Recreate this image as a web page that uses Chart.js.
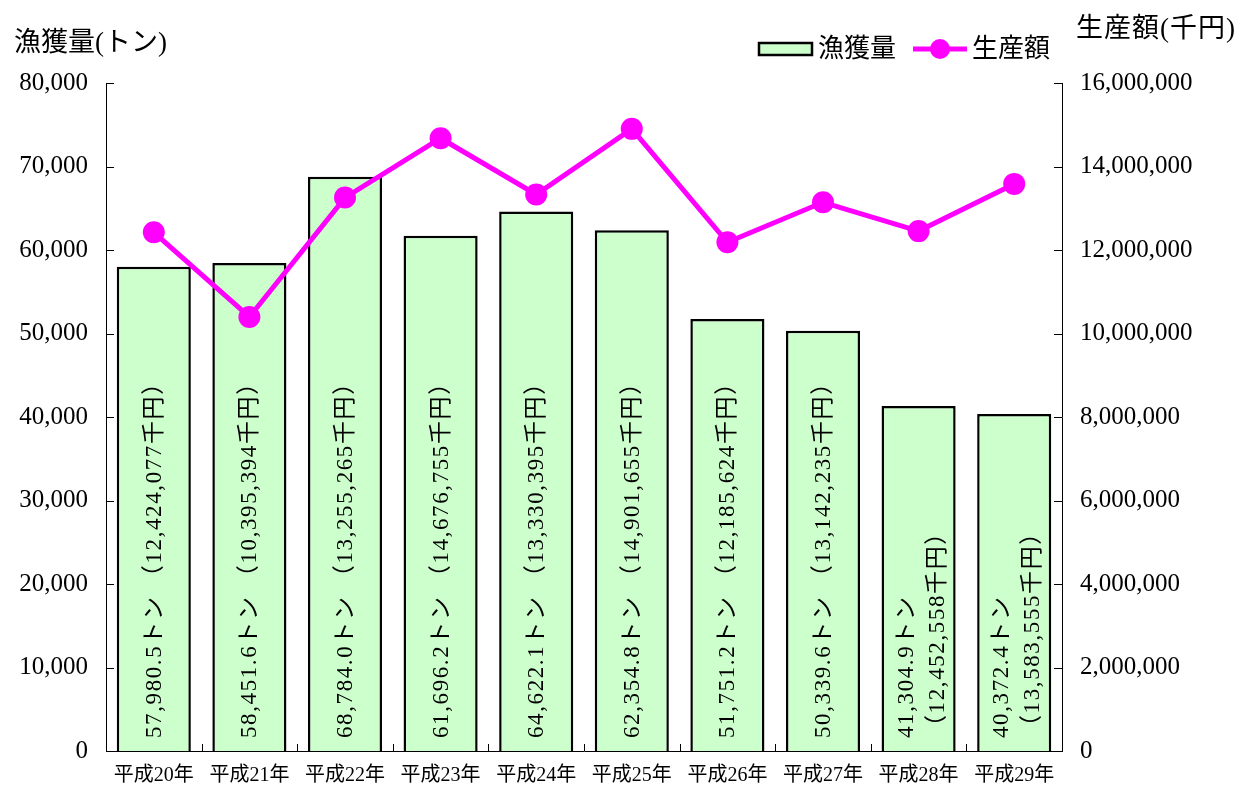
<!DOCTYPE html>
<html>
<head>
<meta charset="utf-8">
<script src="https://cdn.jsdelivr.net/npm/chart.js@4"></script>
<style>
  html, body { margin: 0; padding: 0; background: #fff; }
  canvas { display: block; }
</style>
</head>
<body>
<canvas id="fishChart" width="1248" height="787"></canvas>
<script>
const years = ['平成20年', '平成21年', '平成22年', '平成23年', '平成24年', '平成25年', '平成26年', '平成27年', '平成28年', '平成29年'];
const catchTons = [57980.5, 58451.6, 68784.0, 61696.2, 64622.1, 62354.8, 51751.2, 50339.6, 41304.9, 40372.4];
const valueYen = [12424077, 10395394, 13255265, 14676755, 13330395, 14901655, 12185624, 13142235, 12452558, 13583555];
// last two bars put their label on two lines
const twoLine = [false, false, false, false, false, false, false, false, true, true];

const FONT = '"Liberation Serif", "Noto Sans CJK JP", serif';

const fmtInt = v => Number(v).toLocaleString('en-US');
const fmtTon = v => v.toLocaleString('en-US', { minimumFractionDigits: 1, maximumFractionDigits: 1 });

const decor = {
    id: 'decor',
    afterDatasetsDraw(chart) {
        const ctx = chart.ctx;
        const meta = chart.getDatasetMeta(1);
        const base = chart.scales.y.getPixelForValue(0);
        ctx.save();
        ctx.fillStyle = '#000';
        ctx.font = '23px ' + FONT;
        ctx.letterSpacing = '1.6px';
        ctx.textBaseline = 'middle';
        ctx.textAlign = 'left';
        meta.data.forEach((bar, i) => {
            const t1 = fmtTon(catchTons[i]) + 'トン';
            const t2 = '（' + fmtInt(valueYen[i]) + '千円）';
            const lines = twoLine[i] ? [t1, t2] : [t1 + ' ' + t2];
            lines.forEach((t, k) => {
                const off = lines.length === 1 ? 1 : (k === 0 ? -12 : 19);
                ctx.save();
                ctx.translate(bar.x + off, base - 13);
                ctx.rotate(-Math.PI / 2);
                ctx.fillText(t, 0, 0);
                ctx.restore();
            });
        });
        ctx.restore();
    },
    afterDraw(chart) {
        const ctx = chart.ctx;
        const { y, y1, x } = chart.scales;
        const area = chart.chartArea;
        ctx.save();
        ctx.strokeStyle = '#000';
        ctx.lineWidth = 1;
        // inward tick marks
        y.ticks.forEach(t => {
            const py = Math.round(y.getPixelForValue(t.value)) + 0.5;
            ctx.beginPath(); ctx.moveTo(area.left, py); ctx.lineTo(area.left + 8, py); ctx.stroke();
        });
        y1.ticks.forEach(t => {
            const py = Math.round(y1.getPixelForValue(t.value)) + 0.5;
            ctx.beginPath(); ctx.moveTo(area.right - 8, py); ctx.lineTo(area.right, py); ctx.stroke();
        });
        const step = x.getPixelForValue(1) - x.getPixelForValue(0);
        for (let i = 1; i < years.length; i++) {
            const px = Math.round(x.getPixelForValue(i) - step / 2) + 0.5;
            ctx.beginPath(); ctx.moveTo(px, area.bottom); ctx.lineTo(px, area.bottom - 7); ctx.stroke();
        }

        // axis titles
        ctx.fillStyle = '#000';
        ctx.font = '27px ' + FONT;
        ctx.textBaseline = 'middle';
        ctx.textAlign = 'left';
        ctx.fillText('漁獲量(トン)', 14, 44);
        ctx.letterSpacing = '1px';
        ctx.fillText('生産額(千円)', 1076, 30);
        ctx.letterSpacing = '0px';

        // legend
        ctx.font = '26px ' + FONT;
        ctx.fillStyle = '#ccffcc';
        ctx.fillRect(759, 43, 53, 12);
        ctx.lineWidth = 2.5;
        ctx.strokeRect(759, 43, 53, 12);
        ctx.fillStyle = '#000';
        ctx.fillText('漁獲量', 818, 50);
        ctx.strokeStyle = '#ff00ff';
        ctx.lineWidth = 5;
        ctx.beginPath(); ctx.moveTo(913, 49); ctx.lineTo(967, 49); ctx.stroke();
        ctx.fillStyle = '#ff00ff';
        ctx.beginPath(); ctx.arc(940, 49, 10, 0, Math.PI * 2); ctx.fill();
        ctx.fillStyle = '#000';
        ctx.fillText('生産額', 972, 50);
        ctx.restore();
    }
};

const ctx = document.getElementById('fishChart').getContext('2d');
const fishChart = new Chart(ctx, {
    data: {
        labels: years,
        datasets: [
            {
                type: 'line',
                label: '生産額',
                data: valueYen,
                yAxisID: 'y1',
                borderColor: '#ff00ff',
                backgroundColor: '#ff00ff',
                borderWidth: 5,
                pointRadius: 11,
                pointBorderWidth: 0,
                pointBackgroundColor: '#ff00ff',
                tension: 0,
                order: 0
            },
            {
                type: 'bar',
                label: '漁獲量',
                data: catchTons,
                yAxisID: 'y',
                backgroundColor: '#ccffcc',
                borderColor: '#000',
                borderWidth: 2.5,
                barPercentage: 0.775,
                categoryPercentage: 1,
                order: 1
            }
        ]
    },
    options: {
        responsive: false,
        animation: false,
        layout: { padding: { top: 83, left: 0, right: 0, bottom: 0 } },
        plugins: {
            legend: { display: false },
            tooltip: { enabled: false }
        },
        scales: {
            x: {
                grid: { display: false, drawTicks: false },
                border: { display: true, color: '#000', width: 1 },
                ticks: { color: '#000', font: { family: FONT, size: 20 }, padding: 13, maxRotation: 0, autoSkip: false },
                afterFit: s => { s.height = 36; }
            },
            y: {
                position: 'left',
                min: 0,
                max: 80000,
                grid: { display: false, drawTicks: false },
                border: { display: true, color: '#000', width: 1 },
                ticks: { stepSize: 10000, color: '#000', font: { family: FONT, size: 25 }, padding: 18, callback: v => fmtInt(v) },
                afterFit: s => { s.width = 106; }
            },
            y1: {
                position: 'right',
                min: 0,
                max: 16000000,
                grid: { display: false, drawTicks: false },
                border: { display: true, color: '#000', width: 1 },
                ticks: { stepSize: 2000000, color: '#000', font: { family: FONT, size: 25 }, padding: 18, callback: v => fmtInt(v) },
                afterFit: s => { s.width = 186; }
            }
        }
    },
    plugins: [decor]
});
</script>
</body>
</html>
